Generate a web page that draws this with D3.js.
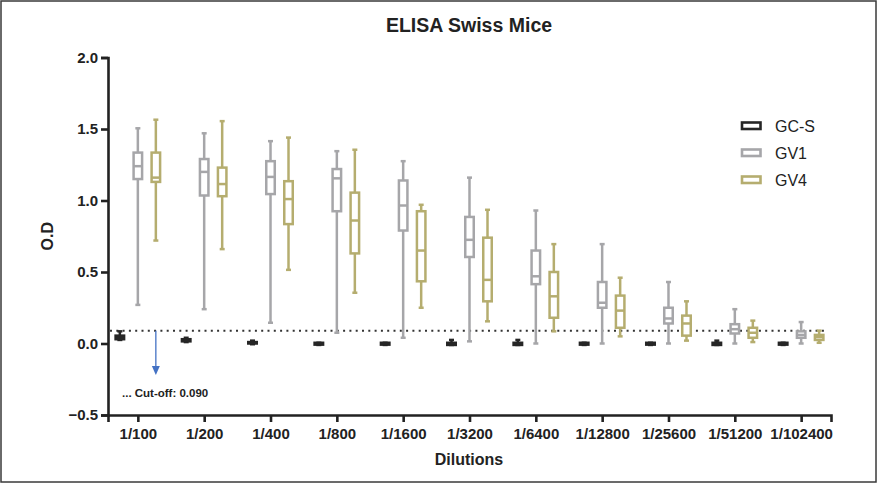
<!DOCTYPE html>
<html>
<head>
<meta charset="utf-8">
<script src="https://cdn.jsdelivr.net/npm/d3@7"></script>
<style>
  body { margin: 0; background: #fff; }
  svg { display: block; font-family: "Liberation Sans", Arial, sans-serif; }
</style>
</head>
<body>
<svg id="chart" width="878" height="484"></svg>
<script>
// dilutions on the x axis
const dilutions = ["1/100", "1/200", "1/400", "1/800", "1/1600", "1/3200",
    "1/6400", "1/12800", "1/25600", "1/51200", "1/102400"];

// box stats per dilution: [min, q1, median, q3, max]
const gcs = [
    [0.025, 0.03, 0.045, 0.055, 0.085],
    [0.01, 0.015, 0.02, 0.03, 0.04],
    [-0.005, 0.0, 0.005, 0.01, 0.02],
    [-0.01, -0.008, 0.0, 0.005, 0.005],
    [-0.01, -0.008, 0.0, 0.005, 0.005],
    [-0.01, -0.01, 0.0, 0.005, 0.025],
    [-0.01, -0.01, 0.0, 0.005, 0.025],
    [-0.01, -0.008, 0.0, 0.005, 0.005],
    [-0.01, -0.008, 0.0, 0.005, 0.005],
    [-0.01, -0.01, 0.0, 0.005, 0.02],
    [-0.01, -0.008, 0.0, 0.005, 0.005]
];
const gv1 = [
    [0.27, 1.15, 1.24, 1.335, 1.505],
    [0.24, 1.035, 1.20, 1.29, 1.47],
    [0.145, 1.045, 1.165, 1.275, 1.415],
    [0.075, 0.925, 1.155, 1.22, 1.345],
    [0.04, 0.79, 0.965, 1.14, 1.275],
    [0.015, 0.605, 0.725, 0.885, 1.16],
    [0.0, 0.415, 0.47, 0.65, 0.93],
    [0.0, 0.25, 0.285, 0.43, 0.695],
    [0.0, 0.14, 0.175, 0.25, 0.43],
    [0.0, 0.07, 0.10, 0.135, 0.24],
    [0.0, 0.04, 0.06, 0.085, 0.15]
];
const gv4 = [
    [0.72, 1.13, 1.16, 1.335, 1.565],
    [0.66, 1.03, 1.115, 1.23, 1.555],
    [0.515, 0.835, 1.01, 1.135, 1.44],
    [0.355, 0.63, 0.86, 1.055, 1.355],
    [0.25, 0.435, 0.65, 0.925, 0.97],
    [0.155, 0.295, 0.445, 0.74, 0.935],
    [0.085, 0.18, 0.33, 0.5, 0.695],
    [0.05, 0.11, 0.23, 0.335, 0.46],
    [0.02, 0.055, 0.14, 0.195, 0.295],
    [0.01, 0.04, 0.075, 0.11, 0.16],
    [0.005, 0.025, 0.045, 0.06, 0.09]
];

const seriesNames = ["GC-S", "GV1", "GV4"];
const yTicks = [-0.5, 0.0, 0.5, 1.0, 1.5, 2.0];
const cutOff = 0.090;
const arrowEnd = -0.22;

const colors = { "GC-S": "#262626", "GV1": "#a6a6a9", "GV4": "#b5ad6f" };
const offsets = { "GC-S": -18, "GV1": 0, "GV4": 18 };
const stats = { "GC-S": gcs, "GV1": gv1, "GV4": gv4 };

const svg = d3.select("#chart");
const ink = "#222";

// frame around the picture
svg.append("rect")
    .attr("x", 1).attr("y", 1)
    .attr("width", 875).attr("height", 481)
    .attr("fill", "none")
    .attr("stroke", "#3a3a3a")
    .attr("stroke-width", 1.5);

const x = d3.scalePoint()
    .domain(dilutions)
    .range([108, 831])
    .padding(0.45);

const y = d3.scaleLinear()
    .domain([-0.5, 2.0])
    .range([415, 57.5]);

// title
svg.append("text")
    .attr("x", 469).attr("y", 32)
    .attr("text-anchor", "middle")
    .attr("font-size", 19.5)
    .attr("font-weight", "bold")
    .attr("fill", ink)
    .text("ELISA Swiss Mice");

// axes
const yAxis = svg.append("g")
    .attr("transform", "translate(108,0)")
    .call(d3.axisLeft(y).tickValues(yTicks).tickFormat(d3.format(".1f")).tickSizeOuter(0).tickSize(7).tickPadding(3));

const xAxis = svg.append("g")
    .attr("transform", "translate(0,415)")
    .call(d3.axisBottom(x).tickSizeOuter(0).tickSize(7).tickPadding(6));

[yAxis, xAxis].forEach(ax => {
    ax.select(".domain").attr("stroke", ink).attr("stroke-width", 2.6);
    ax.selectAll(".tick line").attr("stroke", ink).attr("stroke-width", 2.6);
    ax.selectAll(".tick text")
        .attr("fill", ink)
        .attr("font-size", 15)
        .attr("font-weight", "bold")
        .attr("font-family", "Liberation Sans, Arial, sans-serif");
});
xAxis.selectAll(".tick text").attr("dy", "0.71em");

// axis titles
svg.append("text")
    .attr("x", 469).attr("y", 465)
    .attr("text-anchor", "middle")
    .attr("font-size", 16)
    .attr("font-weight", "bold")
    .attr("fill", ink)
    .text("Dilutions");

svg.append("text")
    .attr("transform", `translate(53,${y(0.75)}) rotate(-90)`)
    .attr("text-anchor", "middle")
    .attr("font-size", 16)
    .attr("font-weight", "bold")
    .attr("fill", ink)
    .text("O.D");

// cut-off dotted line
svg.append("line")
    .attr("x1", 110).attr("x2", 828)
    .attr("y1", y(cutOff)).attr("y2", y(cutOff))
    .attr("stroke", "#333")
    .attr("stroke-width", 2)
    .attr("stroke-dasharray", "2 4.3");

// boxes
const boxW = 8.5, capW = 5, sw = 2.5;
seriesNames.forEach(name => {
    const g = svg.append("g").attr("class", "series");
    const col = colors[name];
    const rows = stats[name].map((s, i) => ({ cat: dilutions[i], s }));

    const items = g.selectAll("g.box")
        .data(rows)
        .join("g")
        .attr("class", "box")
        .attr("transform", d => `translate(${x(d.cat) + offsets[name]},0)`);

    // whiskers
    items.append("line")
        .attr("x1", 0).attr("x2", 0)
        .attr("y1", d => y(d.s[0])).attr("y2", d => y(d.s[4]))
        .attr("stroke", col).attr("stroke-width", sw);
    items.append("line")
        .attr("x1", -capW / 2).attr("x2", capW / 2)
        .attr("y1", d => y(d.s[4])).attr("y2", d => y(d.s[4]))
        .attr("stroke", col).attr("stroke-width", sw);
    items.append("line")
        .attr("x1", -capW / 2).attr("x2", capW / 2)
        .attr("y1", d => y(d.s[0])).attr("y2", d => y(d.s[0]))
        .attr("stroke", col).attr("stroke-width", sw);

    // box
    items.append("rect")
        .attr("x", -boxW / 2)
        .attr("width", boxW)
        .attr("y", d => y(d.s[3]))
        .attr("height", d => Math.max(0.5, y(d.s[1]) - y(d.s[3])))
        .attr("fill", name === "GC-S" ? col : "#fff")
        .attr("stroke", col).attr("stroke-width", sw);

    // median
    items.append("line")
        .attr("x1", -boxW / 2).attr("x2", boxW / 2)
        .attr("y1", d => y(d.s[2])).attr("y2", d => y(d.s[2]))
        .attr("stroke", col).attr("stroke-width", sw);
});

// cut-off arrow and note
const ax0 = x(dilutions[0]) + offsets["GV4"];
svg.append("line")
    .attr("x1", ax0).attr("x2", ax0)
    .attr("y1", y(cutOff)).attr("y2", y(arrowEnd) - 8)
    .attr("stroke", "#4472c4").attr("stroke-width", 1.3);
svg.append("path")
    .attr("d", `M${ax0 - 4},${y(arrowEnd) - 9} L${ax0 + 4},${y(arrowEnd) - 9} L${ax0},${y(arrowEnd)} Z`)
    .attr("fill", "#4472c4");

svg.append("text")
    .attr("x", 122).attr("y", 397)
    .attr("font-size", 11.5)
    .attr("font-weight", "bold")
    .attr("fill", ink)
    .text("... Cut-off: 0.090");

// legend
const legend = svg.append("g").attr("transform", "translate(742,126)");
seriesNames.forEach((name, i) => {
    const row = legend.append("g").attr("transform", `translate(0,${i * 27})`);
    row.append("rect")
        .attr("x", 0).attr("y", -3.5)
        .attr("width", 18.5).attr("height", 6.5)
        .attr("fill", "#fff")
        .attr("stroke", colors[name]).attr("stroke-width", 2.6);
    row.append("text")
        .attr("x", 33).attr("y", 5.5)
        .attr("font-size", 16)
        .attr("fill", ink)
        .text(name);
});
</script>
</body>
</html>
